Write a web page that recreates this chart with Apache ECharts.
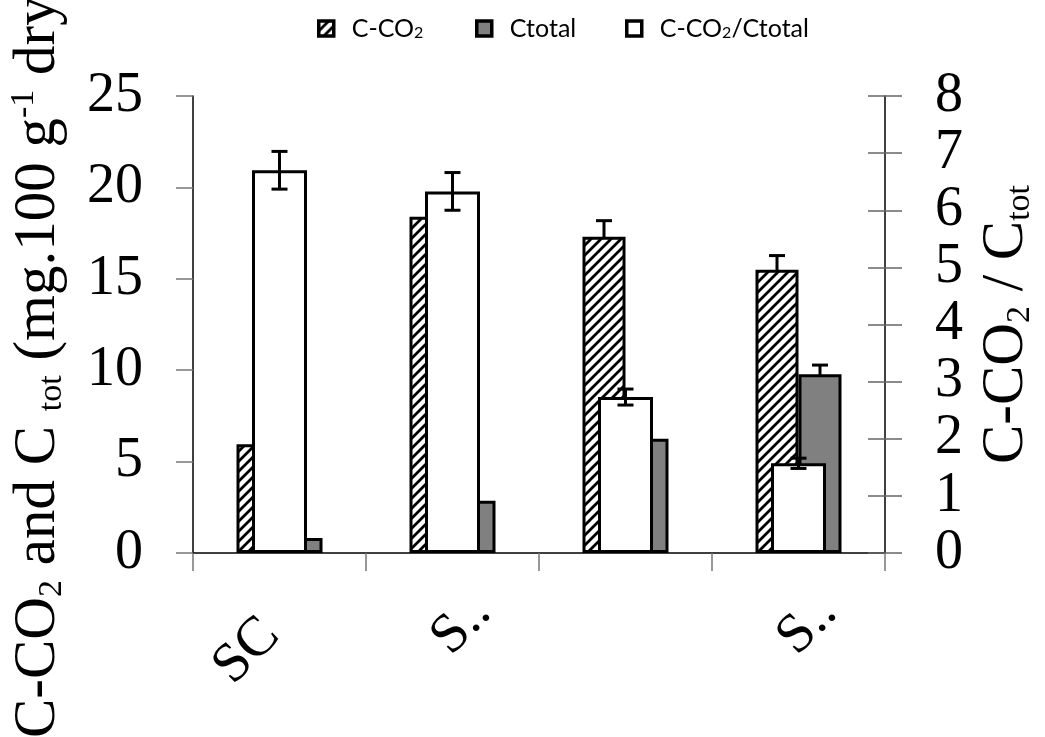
<!DOCTYPE html>
<html>
<head>
<meta charset="utf-8">
<script src="https://cdn.jsdelivr.net/npm/echarts@6/dist/echarts.min.js"></script>
<style>html,body{margin:0;padding:0;background:#fff}#c{width:1045px;height:737px}</style>
</head>
<body>
<div id="c"></div>
<script>
// ---- data ----
var categories = ['SC', 'S..', '', 'S..'];
var cco2 = [5.95, 18.4, 17.3, 15.5];          // C-CO2 (left axis)
var cco2Err = [null, null, 0.88, 0.77];
var ctotal = [0.82, 2.86, 6.25, 9.78];        // Ctotal (left axis)
var ctotalErr = [null, null, null, 0.5];
var ratio = [6.70, 6.33, 2.73, 1.57];         // C-CO2/Ctotal (right axis)
var ratioErr = [0.33, 0.33, 0.14, 0.09];
var leftTicks = {min: 0, max: 25, interval: 5};
var rightTicks = {min: 0, max: 8, interval: 1};

// ---- hatch pattern ----
function hatch() {
  var s = 10, cv = document.createElement('canvas');
  cv.width = s; cv.height = s;
  var ctx = cv.getContext('2d');
  ctx.fillStyle = '#fff'; ctx.fillRect(0, 0, s, s);
  ctx.strokeStyle = '#000'; ctx.lineWidth = 2.8; ctx.lineCap = 'square';
  ctx.beginPath();
  ctx.moveTo(0, s); ctx.lineTo(s, 0);
  ctx.moveTo(-s / 2, s / 2); ctx.lineTo(s / 2, -s / 2);
  ctx.moveTo(s / 2, s * 1.5); ctx.lineTo(s * 1.5, s / 2);
  ctx.stroke();
  return {image: cv, repeat: 'repeat'};
}
var hatchFill = hatch();

var SERIF = '"Liberation Serif", "Times New Roman", serif';
var FS = 56;
var TFS = 59;
var richTitle = {
  n: {fontFamily: SERIF, fontSize: TFS, lineHeight: 62, color: '#000'},
  s: {fontFamily: SERIF, fontSize: 34, lineHeight: 22, verticalAlign: 'bottom', color: '#000'},
  u: {fontFamily: SERIF, fontSize: 34, lineHeight: 22, verticalAlign: 'top', color: '#000'}
};
var richTick = {a: {fontFamily: SERIF, fontSize: FS, color: '#000', lineHeight: 58}};
var richCat = {
  a: {fontFamily: SERIF, fontSize: FS, color: '#000', lineHeight: 58, padding: [0, 6, 12, 0]},
  b: {fontFamily: SERIF, fontSize: FS, color: '#000', lineHeight: 58, width: 22, align: 'left', padding: [10, 0, 0, 0]}
};

function errData(vals, errs) {
  var out = [];
  vals.forEach(function (v, i) { if (errs[i] != null) out.push([i, v, errs[i]]); });
  return out;
}
function errRender(offset) {
  return function (params, api) {
    var i = api.value(0), v = api.value(1), e = api.value(2);
    var t = api.coord([i, v + e]), b = api.coord([i, v - e]);
    var x = t[0] + offset, cap = 8;
    var st = {stroke: '#000', lineWidth: 3};
    return {type: 'group', children: [
      {type: 'line', shape: {x1: x, y1: t[1], x2: x, y2: b[1]}, style: st},
      {type: 'line', shape: {x1: x - cap, y1: t[1], x2: x + cap, y2: t[1]}, style: st},
      {type: 'line', shape: {x1: x - cap, y1: b[1], x2: x + cap, y2: b[1]}, style: st}
    ]};
  };
}

var legendRich = {
  t: {fontFamily: 'Lato', fontSize: 25, color: '#000'},
  s: {fontFamily: 'Lato', fontSize: 16, color: '#000', verticalAlign: 'bottom', lineHeight: 12}
};
function legendFmt(name) {
  return name.split('2').map(function (p) { return p ? '{t|' + p + '}' : ''; }).join('{s|2}');
}
function mkLegend(name, left) {
  return {
    data: [name], left: left, top: 11, itemWidth: 15, itemHeight: 15, icon: 'rect',
    itemStyle: {borderColor: '#000', borderWidth: 3.5},
    formatter: legendFmt,
    textStyle: {rich: legendRich, padding: [0, 0, 0, 13]},
    selectedMode: false
  };
}
function tickFmt(v) { return v === '' ? '' : '{a|' + v + '}'; }
function catFmt(v) {
  if (v === '') return '';
  return v.indexOf('..') >= 0 ? '{b|' + v + '}' : '{a|' + v + '}';
}

var BW = 43;
var chart = echarts.init(document.getElementById('c'), null, {renderer: 'canvas'});
chart.setOption({
  animation: false,
  backgroundColor: '#fff',
  textStyle: {fontFamily: SERIF},
  grid: {left: 193, right: 153, top: 96, bottom: 184},
  legend: [mkLegend('C-CO2', 312), mkLegend('Ctotal', 470), mkLegend('C-CO2/Ctotal', 620)],
  xAxis: [{
    type: 'category', data: categories, position: 'bottom',
    axisLine: {lineStyle: {color: '#000', width: 1.5}},
    axisTick: {show: true, alignWithLabel: false, length: 18, interval: 0, lineStyle: {color: '#777', width: 1.5}},
    axisLabel: {interval: 0, rotate: 45, margin: 74, formatter: catFmt, rich: richCat},
    splitLine: {show: false}
  }, {
    type: 'category', data: categories, position: 'bottom', show: false
  }],
  yAxis: [{
    type: 'value', min: leftTicks.min, max: leftTicks.max, interval: leftTicks.interval, position: 'left',
    axisLine: {show: true, lineStyle: {color: '#000', width: 1.5}},
    axisTick: {show: true, length: 17, lineStyle: {color: '#777', width: 1.5}},
    axisLabel: {margin: 50, formatter: tickFmt, rich: richTick},
    splitLine: {show: false}
  }, {
    type: 'value', min: rightTicks.min, max: rightTicks.max, interval: rightTicks.interval, position: 'right',
    axisLine: {show: true, lineStyle: {color: '#000', width: 1.5}},
    axisTick: {show: true, length: 17, lineStyle: {color: '#666', width: 1.5}},
    axisLabel: {margin: 50, formatter: tickFmt, rich: richTick},
    splitLine: {show: false},
    name: '{n|C-CO}{s|2}{n| / C}{s|tot}',
    nameLocation: 'middle', nameRotate: 90, nameGap: 90,
    nameTextStyle: {rich: richTitle}
  }, {
    type: 'value', min: rightTicks.min, max: rightTicks.max, interval: rightTicks.interval, position: 'right',
    axisLine: {show: false},
    axisTick: {show: true, inside: true, length: 17, lineStyle: {color: '#666', width: 1.5}},
    axisLabel: {show: false}, splitLine: {show: false}
  }],
  graphic: [{
    type: 'text', x: 38, y: 738, rotation: Math.PI / 2,
    style: {
      text: '{n|C-CO}{s|2}{n| and C }{s|tot}{n| (mg.100 g}{u|-1}{n| dry}',
      rich: richTitle, align: 'left', verticalAlign: 'middle'
    }
  }],
  series: [{
    name: 'C-CO2', type: 'bar', xAxisIndex: 0, yAxisIndex: 0, data: cco2,
    barWidth: BW, barGap: '0%', z: 2,
    itemStyle: {color: hatchFill, borderColor: '#000', borderWidth: 3}
  }, {
    name: 'Ctotal', type: 'bar', xAxisIndex: 0, yAxisIndex: 0, data: ctotal,
    barWidth: BW, barGap: '0%', z: 2,
    itemStyle: {color: '#808080', borderColor: '#000', borderWidth: 3}
  }, {
    type: 'custom', xAxisIndex: 0, yAxisIndex: 0, z: 2,
    data: errData(cco2, cco2Err), renderItem: errRender(-BW / 2)
  }, {
    type: 'custom', xAxisIndex: 0, yAxisIndex: 0, z: 2,
    data: errData(ctotal, ctotalErr), renderItem: errRender(BW / 2)
  }, {
    name: 'C-CO2/Ctotal', type: 'bar', xAxisIndex: 1, yAxisIndex: 1, data: ratio,
    barWidth: 55, z: 3,
    itemStyle: {color: '#fff', borderColor: '#000', borderWidth: 3}
  }, {
    type: 'custom', xAxisIndex: 1, yAxisIndex: 1, z: 4,
    data: errData(ratio, ratioErr), renderItem: errRender(0)
  }]
});
</script>
</body>
</html>
